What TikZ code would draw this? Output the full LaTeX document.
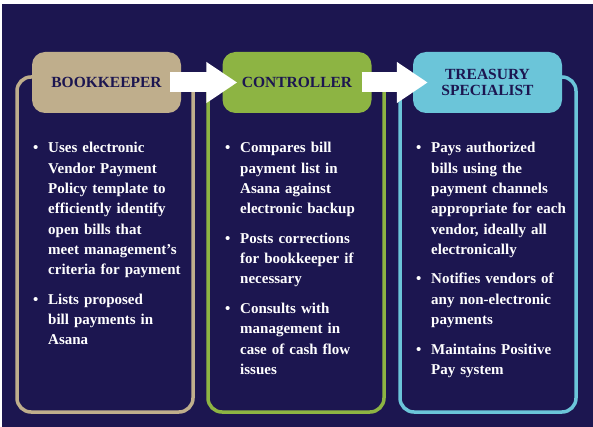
\documentclass[tikz,border=0pt]{standalone}
\usepackage{fontspec}
\setmainfont{Liberation Serif}
\usetikzlibrary{arrows.meta}

\definecolor{navy}{RGB}{28,22,80}
\definecolor{tan}{RGB}{191,174,140}
\definecolor{leaf}{RGB}{141,180,67}
\definecolor{sky}{RGB}{107,197,217}

\newcommand{\itm}{\par\leftskip=15pt\noindent\strut\llap{\makebox[15pt][l]{\textbullet}}}
\newcommand{\gap}{\par\vspace{9.2pt}}

\tikzset{
  frame/.style={draw, line width=3.5pt, rounded corners=14pt, minimum width=176pt, minimum height=335pt, inner sep=0pt},
  head/.style={rounded corners=13pt, minimum width=149pt, minimum height=61pt, inner sep=0pt, text=navy, align=center,
    font=\fontsize{15.5}{16.5}\selectfont\bfseries},
  items/.style={anchor=north west, inner sep=0pt, text width=165pt, align=left, text=white,
    font=\fontsize{15}{20.3}\selectfont\bfseries},
  blockarrow/.style={draw=white, line width=20pt, -{Triangle[length=31pt,width=39pt]}}
}

\begin{document}
\begin{tikzpicture}[x=1pt,y=-1pt]
	\useasboundingbox (0,0) rectangle (593,427);
	\fill[navy] (2,4) rectangle (593,427);
	
	% outlines
	\node[frame, draw=tan] (bkframe) at (105,244.5) {};
	\node[frame, draw=leaf] (coframe) at (296,244.5) {};
	\node[frame, draw=sky] (trframe) at (488,244.5) {};
	
	% headings
	\node[head, fill=tan] (bkhead) at (106.5,82.5) {BOOKKEEPER};
	\node[head, fill=leaf] (cohead) at (297,82.5) {CONTROLLER};
	\node[head, fill=sky] (trhead) at (487.5,82.5) {TREASURY\\SPECIALIST};
	
	\draw[blockarrow] ([xshift=-11pt]bkhead.east) -- ([xshift=15pt]cohead.west);
	\draw[blockarrow] ([xshift=-10pt]cohead.east) -- ([xshift=15pt]trhead.west);
	
	% bullet lists
	\node[items] (bklist) at (33,132.5) {\itm Uses electronic\newline Vendor Payment\newline Policy template to\newline efficiently identify\newline open bills that\newline meet management’s\newline criteria for payment\gap
		\itm Lists proposed\newline bill payments in\newline Asana\par};
	\node[items] (colist) at (225,132.5) {\itm Compares bill\newline payment list in\newline Asana against\newline electronic backup\gap
		\itm Posts corrections\newline for bookkeeper if\newline necessary\gap
		\itm Consults with\newline management in\newline case of cash flow\newline issues\par};
	\node[items] (trlist) at (416,132.5) {\itm Pays authorized\newline bills using the\newline payment channels\newline appropriate for each\newline vendor, ideally all\newline electronically\gap
		\itm Notifies vendors of\newline any non-electronic\newline payments\gap
		\itm Maintains Positive\newline Pay system\par};
\end{tikzpicture}
\end{document}
